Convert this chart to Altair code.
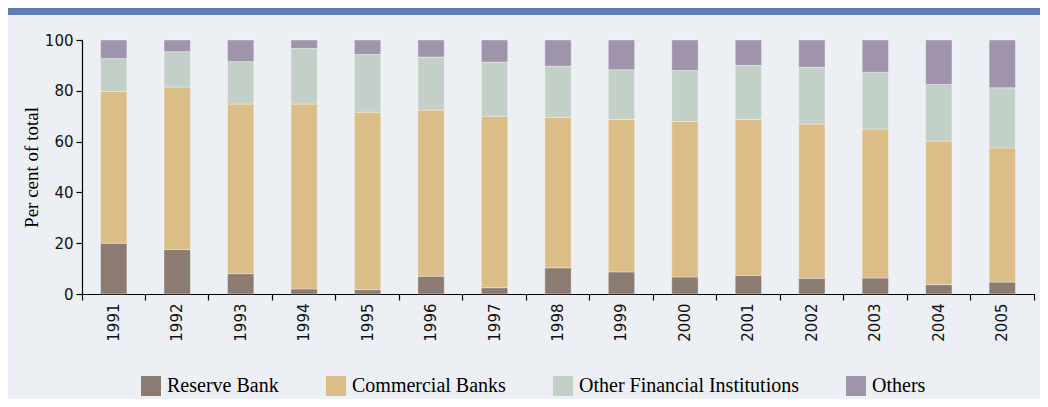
import altair as alt
import pandas as pd

# ---- data (per cent of total) ----
years = [str(y) for y in range(1991, 2006)]
reserve_bank = [20.0, 17.5, 8.0, 2.0, 1.7, 7.0, 2.5, 10.3, 8.7, 6.7, 7.3, 6.2, 6.3, 3.7, 4.7]
commercial_banks = [59.7, 64.0, 66.8, 72.8, 69.9, 65.4, 67.5, 59.2, 60.0, 61.2, 61.4, 60.7, 58.7, 56.5, 52.8]
other_financial = [13.0, 13.9, 16.7, 21.9, 22.7, 20.9, 21.3, 20.2, 19.6, 20.1, 21.3, 22.4, 22.3, 22.3, 23.7]
others = [7.3, 4.6, 8.5, 3.3, 5.7, 6.7, 8.7, 10.3, 11.7, 12.0, 10.0, 10.7, 12.7, 17.5, 18.8]

series = ["Reserve Bank", "Commercial Banks", "Other Financial Institutions", "Others"]
series_values = [reserve_bank, commercial_banks, other_financial, others]
colors = ["#8C7B70", "#DBBD88", "#C2D0C8", "#A094AD"]
y_ticks = [0, 20, 40, 60, 80, 100]

rows = []
for i, (name, vals) in enumerate(zip(series, series_values)):
    for yr, v in zip(years, vals):
        rows.append({"Year": yr, "Series": name, "Value": v, "Order": i})
df = pd.DataFrame(rows)

BG = "#ECEFF4"
BAND = "#5F7DB6"

bars = alt.Chart(df).mark_bar(
    width=alt.RelativeBandSize(0.415),
    stroke="white", strokeOpacity=0.35, strokeWidth=1,
).encode(
    x=alt.X(
        "Year:N", title=None, sort=years,
        scale=alt.Scale(paddingInner=0, paddingOuter=0),
        axis=alt.Axis(
            labelAngle=270, bandPosition=1, tickExtra=True, tickSize=6,
            labelPadding=3, domainColor="black", tickColor="black",
            domainWidth=1.2, tickWidth=1.2,
            labelFont="DejaVu Sans", labelFontSize=15, labelColor="#111111",
            grid=False,
        ),
    ),
    y=alt.Y(
        "Value:Q", stack="zero",
        scale=alt.Scale(domain=[0, 100], nice=False),
        axis=alt.Axis(
            values=y_ticks, title="Per cent of total", tickSize=6, labelPadding=3,
            domainColor="black", tickColor="black", domainWidth=1.2, tickWidth=1.2,
            labelFont="DejaVu Sans", labelFontSize=15, labelColor="#111111",
            titleFont="Liberation Serif", titleFontSize=19, titleFontWeight="normal",
            titleColor="black", titlePadding=3, grid=False,
        ),
    ),
    color=alt.Color(
        "Series:N",
        scale=alt.Scale(domain=series, range=colors),
        legend=alt.Legend(
            title=None, orient="none", legendX=59, legendY=336,
            direction="horizontal", columns=4, columnPadding=47,
            symbolType="square", symbolSize=400, symbolStrokeWidth=0, symbolOpacity=1,
            labelFont="Liberation Serif", labelFontSize=20, labelColor="black",
            labelOffset=6, labelLimit=400,
        ),
    ),
    order=alt.Order("Order:Q", sort="ascending"),
)

band = alt.Chart(pd.DataFrame({"k": [0]})).mark_rect(color=BAND).encode(
    x=alt.value(-74), x2=alt.value(958), y=alt.value(-32), y2=alt.value(-25)
)

chart = alt.layer(band, bars).properties(
    width=952, height=254,
    autosize=alt.AutoSizeParams(type="none"),
    padding={"left": 74, "top": 32, "right": 6, "bottom": 105},
    background=BG,
).configure_view(stroke=None)

chart.save("out.html", embed_options={"renderer": "svg", "actions": False})
